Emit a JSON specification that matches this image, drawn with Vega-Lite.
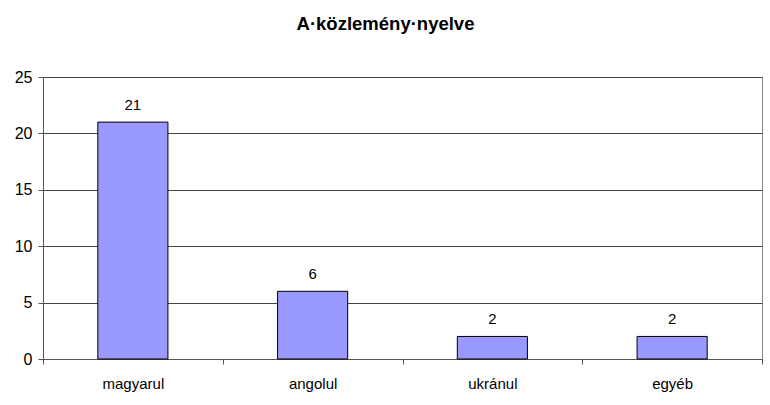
{
  "$schema": "https://vega.github.io/schema/vega-lite/v6.json",
  "width": 719,
  "height": 282,
  "autosize": {"type": "none"},
  "padding": {"left": 43, "top": 77, "right": 8, "bottom": 46},
  "background": "white",
  "title": {
    "text": "A·közlemény·nyelve",
    "font": "Liberation Sans",
    "fontSize": 18.5,
    "fontWeight": "bold",
    "color": "#000000",
    "anchor": "middle",
    "dx": -17,
    "offset": 36
  },
  "data": {
    "values": [
      {"nyelv": "magyarul", "db": 21},
      {"nyelv": "angolul", "db": 6},
      {"nyelv": "ukránul", "db": 2},
      {"nyelv": "egyéb", "db": 2}
    ]
  },
  "encoding": {
    "x": {
      "field": "nyelv",
      "type": "nominal",
      "sort": null,
      "scale": {"paddingInner": 0, "paddingOuter": 0},
      "axis": {
        "title": null,
        "labelAngle": 0,
        "tickBand": "extent",
        "tickSize": 5,
        "tickColor": "#555555",
        "domainColor": "#555555",
        "labelPadding": 12,
        "labelFont": "Liberation Sans",
        "labelFontSize": 15,
        "labelColor": "#000000",
        "grid": false
      }
    },
    "y": {
      "field": "db",
      "type": "quantitative",
      "scale": {"domain": [0, 25], "nice": false},
      "axis": {
        "title": null,
        "values": [0, 5, 10, 15, 20, 25],
        "tickSize": 5,
        "tickColor": "#555555",
        "domainColor": "#555555",
        "labelPadding": 6,
        "labelFont": "Liberation Sans",
        "labelFontSize": 16,
        "labelColor": "#000000",
        "grid": true,
        "gridColor": "#444444",
        "gridOpacity": 1
      }
    }
  },
  "layer": [
    {
      "mark": {"type": "bar", "width": {"band": 0.39}, "fill": "#9999FF", "stroke": "#000000", "strokeWidth": 1}
    },
    {
      "mark": {"type": "text", "baseline": "bottom", "dy": -9, "font": "Liberation Sans", "fontSize": 15, "color": "#000000"},
      "encoding": {"text": {"field": "db", "type": "quantitative"}}
    }
  ],
  "config": {
    "view": {"stroke": "#888888", "strokeWidth": 1}
  }
}
